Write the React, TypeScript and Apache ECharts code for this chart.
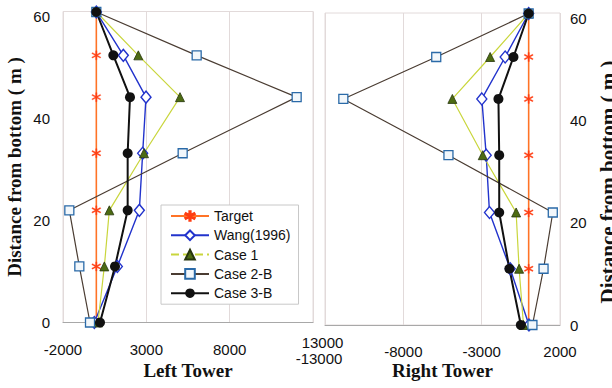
import React, { useEffect, useRef } from "react";
import * as echarts from "echarts";

// Heights of the measured cable anchor points (m)
const heights = [0, 11, 22, 33.2, 44.2, 52.4, 60.9];

const seriesNames = ["Target", "Wang(1996)", "Case 1", "Case 2-B", "Case 3-B"];

// Left tower values, bottom to top
const leftTarget = [0, 0, 0, 0, 0, 0, 0];
const leftWang = [-120, 1260, 2580, 2780, 2980, 1620, 0];
const leftCase1 = [100, 480, 780, 2860, 5020, 2520, 0];
const leftCase2B = [-380, -1020, -1620, 5180, 12020, 6020, 0];
const leftCase3B = [220, 1120, 1880, 1880, 2020, 1020, 0];

// Right tower values, bottom to top
const rightTarget = [0, 0, 0, 0, 0, 0, 0];
const rightWang = [20, -1180, -2500, -2710, -2990, -1500, 0];
const rightCase1 = [-330, -610, -800, -2930, -4870, -2460, 0];
const rightCase2B = [240, 950, 1540, -5120, -11830, -5900, 0];
const rightCase3B = [-500, -1230, -1880, -1880, -1930, -970, 0];

// Axis ranges
const leftXRange = [-2000, 13000];
const rightXRange = [-13000, 2000];
const xStep = 5000;
const yRange = [0, 61];
const yStep = 20;

const ASTERISK =
  "path://M4.4 0L5.6 0L5.6 10L4.4 10Z M9.03 8.02L9.63 6.98L0.97 1.98L0.37 3.02Z M9.63 3.02L9.03 1.98L0.37 6.98L0.97 8.02Z";

const SANS = "Liberation Sans";
const SERIF = "Liberation Serif";

const styles: Record<string, any> = {
  Target: {
    symbol: ASTERISK,
    symbolSize: 9,
    lineStyle: { color: "#ff7326", width: 1.6 },
    itemStyle: { color: "#ff3d12", borderColor: "#ff3d12", borderWidth: 0.4 },
  },
  "Wang(1996)": {
    symbol: "diamond",
    symbolSize: [10, 12],
    lineStyle: { color: "#2233cc", width: 1.4 },
    itemStyle: { color: "#ffffff", borderColor: "#2233cc", borderWidth: 1.4 },
  },
  "Case 1": {
    symbol: "triangle",
    symbolSize: 9,
    lineStyle: { color: "#c9d63c", width: 1.2 },
    itemStyle: { color: "#4d6b12", borderColor: "#26350c", borderWidth: 0.8 },
  },
  "Case 2-B": {
    symbol: "rect",
    symbolSize: 9,
    lineStyle: { color: "#4a3c32", width: 1.2 },
    itemStyle: { color: "#f2f7fb", borderColor: "#2a6aa8", borderWidth: 1.3 },
  },
  "Case 3-B": {
    symbol: "circle",
    symbolSize: 10,
    lineStyle: { color: "#111111", width: 2 },
    itemStyle: { color: "#111111" },
  },
};

const pts = (xs: number[]) => xs.map((x, i) => [x, heights[i]]);

const leftSets = [leftTarget, leftWang, leftCase1, leftCase2B, leftCase3B];
const rightSets = [rightTarget, rightWang, rightCase1, rightCase2B, rightCase3B];

const tickFont = { fontSize: 15, fontFamily: SANS, color: "#111" };
const nameFont = { fontSize: 19, fontFamily: SERIF, fontWeight: "bold", color: "#111" };
const gridLine = { color: "#e2dada", width: 1 };

export default function App() {
  const ref = useRef<HTMLDivElement>(null);

  useEffect(() => {
    if (!ref.current) return;
    const chart = echarts.init(ref.current, null, { renderer: "svg" });

    const makeSeries = (sets: number[][], idx: number) =>
      sets.map((vals, k) => {
        const name = seriesNames[k];
        return {
          name,
          type: "line",
          xAxisIndex: idx,
          yAxisIndex: idx,
          data: pts(vals),
          showAllSymbol: true,
          ...styles[name],
        };
      });

    const xAxisBase = (
      idx: number,
      range: number[],
      name: string,
      gap: number,
      fmt: (v: number) => string,
      rich: any
    ) => ({
      gridIndex: idx,
      type: "value",
      min: range[0],
      max: range[1],
      interval: xStep,
      name,
      nameLocation: "middle",
      nameGap: gap,
      nameMoveOverlap: false,
      nameTextStyle: nameFont,
      axisLine: { show: true, lineStyle: { color: "#a8a8a8" } },
      axisTick: { show: false },
      splitLine: { show: true, lineStyle: gridLine },
      axisLabel: { margin: 12, ...tickFont, formatter: fmt, rich },
    });

    const yAxisBase = (idx: number, position: string, margin: number, gap: number, nameStyle: any) => ({
      gridIndex: idx,
      type: "value",
      position,
      min: yRange[0],
      max: yRange[1],
      interval: yStep,
      name: "Distance from bottom ( m )",
      nameLocation: "middle",
      nameRotate: 90,
      nameGap: gap,
      nameMoveOverlap: false,
      nameTextStyle: nameStyle,
      axisLine: { show: false },
      axisTick: { show: false },
      splitLine: { show: false },
      axisLabel: { margin, showMaxLabel: false, ...tickFont },
    });

    const n = { padding: [7, 0, 0, 0], ...tickFont };

    const gridBase = {
      show: true,
      borderColor: "#e2dada",
      borderWidth: 1,
      containLabel: false,
      outerBoundsMode: "none",
    };

    chart.setOption({
      animation: false,
      backgroundColor: "#ffffff",
      grid: [
        { ...gridBase, left: 63, right: 299, top: 11.5, bottom: 65.5 },
        { ...gridBase, left: 325, right: 52, top: 13, bottom: 63 },
      ],
      legend: {
        orient: "vertical",
        left: 161,
        top: 205,
        itemWidth: 38,
        itemHeight: 12,
        itemGap: 5.3,
        padding: [4, 8, 4, 9],
        backgroundColor: "#ffffff",
        borderColor: "#c8c8c8",
        borderWidth: 1,
        textStyle: { fontSize: 14, fontFamily: SANS, color: "#111" },
        data: seriesNames.map((name) =>
          name === "Case 1" ? { name, lineStyle: { type: "dashed" } } : { name }
        ),
      },
      xAxis: [
        xAxisBase(
          0,
          leftXRange,
          "Left Tower",
          38,
          (v: number) => (v === leftXRange[1] ? `{hi|${v}}` : `{n|${v}}`),
          { n, hi: { padding: [0, 0, 0, 19], ...tickFont } }
        ),
        xAxisBase(
          1,
          rightXRange,
          "Right Tower",
          36,
          (v: number) => (v === rightXRange[0] ? `{lo|${v}}` : `{n|${v}}`),
          { n, lo: { padding: [14, 12, 0, 0], ...tickFont } }
        ),
      ],
      yAxis: [
        yAxisBase(0, "left", 13, 39, nameFont),
        yAxisBase(1, "right", 10, 37, { ...nameFont, fontSize: 21, padding: [0, 26, 0, 0] }),
      ],
      series: [...makeSeries(leftSets, 0), ...makeSeries(rightSets, 1)],
    });

    return () => chart.dispose();
  }, []);

  return <div ref={ref} style={{ width: 612, height: 388, position: "absolute", left: 0, top: 0 }} />;
}
